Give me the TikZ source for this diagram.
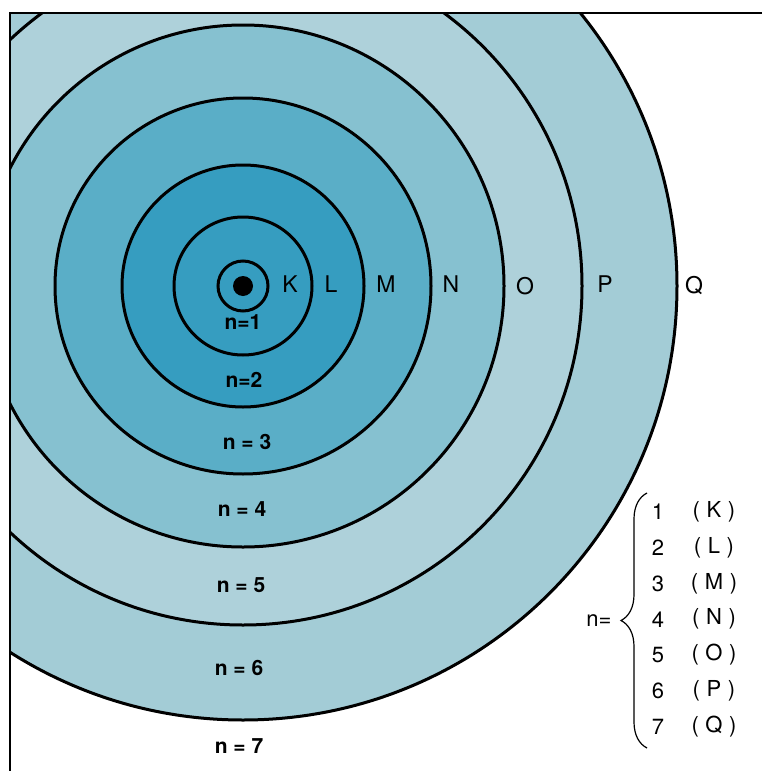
\documentclass[tikz,border=0pt]{standalone}
\usepackage{fontspec}
\setmainfont{TeX Gyre Heros}
\usetikzlibrary{positioning, decorations.pathreplacing}

\definecolor{coreblue}{HTML}{369DC0}
\definecolor{bandN}{HTML}{5AAEC7}
\definecolor{bandO}{HTML}{86C1D0}
\definecolor{bandP}{HTML}{AED1DA}
\definecolor{bandQ}{HTML}{A3CCD6}

\begin{document}
\begin{tikzpicture}[
		x=0.5pt, y=-0.5pt,
		orbit/.style={line width=1.5pt},
		shell/.style={font=\fontsize{11.5}{13}\selectfont, inner sep=1pt},
		level/.style={font=\fontsize{10.5}{12}\selectfont\bfseries, inner sep=1pt},
		row/.style={font=\fontsize{11}{13}\selectfont, inner sep=1pt}
		]
		\useasboundingbox (0,0) rectangle (762,771);
		\coordinate (nuc) at (243,286);
		
		% --- Shells ---
		\begin{scope}
			\clip (10,13) rectangle (762,771);
			\foreach \r/\c in {434/bandQ, 339/bandP, 261/bandO, 188/bandN, 121/coreblue}
				\fill[\c] (nuc) circle[radius=\r];
			\foreach \r in {434, 339, 261, 188, 121, 69, 25}
				\draw[orbit] (nuc) circle[radius=\r];
		\end{scope}
		\fill[black] (nuc) circle[radius=10];
		
		% --- Frame ---
		\draw[line width=1pt] (762,13) -- (10,13) -- (10,771);
		
		% --- Shell letters ---
		\node[shell] (K) at (290,284) {K};
		\node[shell] (L) at (331,284) {L};
		\node[shell] (M) at (386,284) {M};
		\node[shell] (N) at (451,284) {N};
		\node[shell] (O) at (525,286) {O};
		\node[shell] (P) at (605,284) {P};
		\node[shell] (Q) at (694,286) {Q};
		
		% --- Levels ---
		\node[level] (n1) at (243,322) {n=1};
		\node[level] (n2) at (244,380) {n=2};
		\node[level] (n3) at (247,442) {n = 3};
		\node[level] (n4) at (242,509) {n = 4};
		\node[level] (n5) at (241,585) {n = 5};
		\node[level] (n6) at (239,668) {n = 6};
		\node[level] (n7) at (239,746) {n = 7};
		
		% --- Legend ---
		\foreach \d/\s [count=\i] in {1/K, 2/L, 3/M, 4/N, 5/O, 6/P, 7/Q} {
			\node[row] (d\i) at (658,476+35.8*\i) {\d};
			\node[row] (s\i) at (714,476+35.8*\i) {(\hspace{.3em}\s\hspace{.3em})};
		}
		\coordinate (bTop) at (647,493);
		\coordinate (bBot) at (647,748);
		\draw[line width=0.6pt, decorate, decoration={brace, amplitude=13pt}] (bBot) -- (bTop);
		\node[row] (neq) at (599,621) {n=};
		
	\end{tikzpicture}
\end{document}
